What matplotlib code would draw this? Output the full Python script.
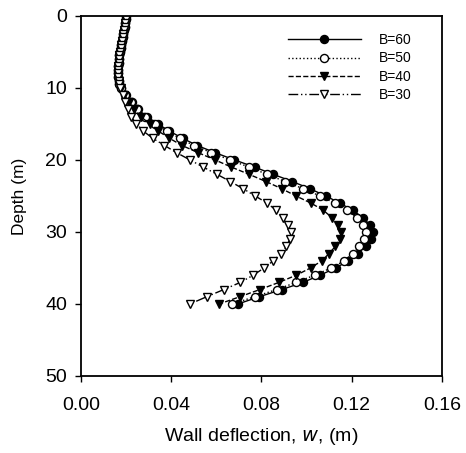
import matplotlib.pyplot as plt
import numpy as np

plt.rcParams['font.family'] = ['Liberation Sans', 'DejaVu Sans']

# 0.5 m steps down to 9.5 m, then 1 m steps
depth = [0, 0.5, 1, 1.5, 2, 2.5, 3, 3.5, 4, 4.5, 5, 5.5, 6, 6.5, 7, 7.5, 8, 8.5, 9, 9.5] + list(range(10, 41))

top = [0.0201, 0.0198, 0.0196, 0.0193, 0.0190, 0.0187, 0.0184, 0.0181, 0.0178, 0.0175,
       0.0172, 0.0170, 0.0168, 0.0166, 0.0165, 0.0164, 0.0164, 0.0165, 0.0166, 0.0169]

b60 = top + [0.0178, 0.0198, 0.0225, 0.0252, 0.0292, 0.0340, 0.0392, 0.0450, 0.0515, 0.0595,
             0.0680, 0.0770, 0.0852, 0.0937, 0.1015, 0.1085, 0.1148, 0.1205, 0.1250, 0.1280,
             0.1295, 0.1288, 0.1262, 0.1228, 0.1185, 0.1130, 0.1060, 0.0985, 0.0890, 0.0790,
             0.0696]
b50 = top + [0.0177, 0.0196, 0.0221, 0.0247, 0.0284, 0.0330, 0.0380, 0.0437, 0.0500, 0.0578,
             0.0660, 0.0745, 0.0825, 0.0905, 0.0985, 0.1060, 0.1125, 0.1178, 0.1222, 0.1250,
             0.1262, 0.1255, 0.1232, 0.1205, 0.1168, 0.1110, 0.1036, 0.0955, 0.0867, 0.0770,
             0.0670]
b40 = top + [0.0175, 0.0192, 0.0213, 0.0236, 0.0265, 0.0305, 0.0343, 0.0392, 0.0448, 0.0520,
             0.0594, 0.0667, 0.0745, 0.0820, 0.0890, 0.0953, 0.1020, 0.1075, 0.1112, 0.1140,
             0.1152, 0.1147, 0.1128, 0.1100, 0.1068, 0.1018, 0.0955, 0.0878, 0.0793, 0.0704,
             0.0613]
b30 = top + [0.0172, 0.0184, 0.0196, 0.0208, 0.0222, 0.0245, 0.0276, 0.0318, 0.0370, 0.0424,
             0.0483, 0.0542, 0.0603, 0.0662, 0.0719, 0.0772, 0.0825, 0.0866, 0.0895, 0.0918,
             0.0930, 0.0926, 0.0911, 0.0887, 0.0853, 0.0812, 0.0764, 0.0707, 0.0633, 0.0557,
             0.0483]

fig = plt.figure(figsize=(4.66, 4.53), dpi=100)
ax = fig.add_axes([0.174, 0.170, 0.774, 0.795])

ax.plot(b60, depth, '-', color='black', lw=1, marker='o', ms=5.8,
        mfc='black', mec='black', label='B=60')
ax.plot(b50, depth, ':', color='black', lw=1, marker='o', ms=5.8,
        mfc='white', mec='black', label='B=50')
ax.plot(b40, depth, '--', color='black', lw=1, marker='v', ms=6.3,
        mfc='black', mec='black', label='B=40')
ax.plot(b30, depth, color='black', lw=1, linestyle=(0, (7, 2, 1, 2, 1, 2)),
        marker='v', ms=6.3, mfc='white', mec='black', label='B=30')

ax.set_xlim(0, 0.16)
ax.set_ylim(50, 0)
ax.set_xticks([0.00, 0.04, 0.08, 0.12, 0.16])
ax.set_xticklabels(['0.00', '0.04', '0.08', '0.12', '0.16'])
ax.set_yticks([0, 10, 20, 30, 40, 50])

for s in ax.spines.values():
    s.set_linewidth(1.3)
ax.tick_params(direction='out', length=4, width=1, labelsize=14)
ax.tick_params(axis='x', pad=11)
ax.tick_params(axis='y', pad=6)

ax.set_xlabel('Wall deflection, $\\it{w}$, (m)', fontsize=14, labelpad=9)
ax.set_ylabel('Depth (m)', fontsize=12.5, labelpad=13)

ax.legend(loc='upper left', frameon=False, fontsize=10, handlelength=5.3,
          handletextpad=1.3, labelspacing=0.3, borderaxespad=0,
          bbox_to_anchor=(0.557, 0.967))

fig.savefig('out.png', dpi=100)
